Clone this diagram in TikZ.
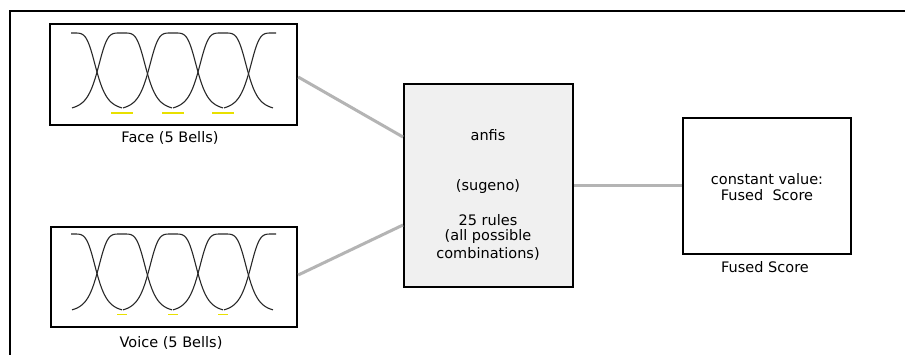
\documentclass[tikz,border=0pt]{standalone}
\usepackage{fontspec}
\setmainfont{DejaVu Sans}
\definecolor{linkgray}{HTML}{B4B4B4}
\definecolor{boxfill}{HTML}{F0F0F0}
\definecolor{bellc}{HTML}{282828}
\definecolor{marky}{HTML}{E8E000}
\begin{document}
\begin{tikzpicture}[x=1pt,y=-1pt,
  blk/.style={draw=black,line width=2.4pt,inner sep=0pt},
  lbl/.style={inner sep=0pt,font=\fontsize{14.5}{17}\selectfont,text=black},
  link/.style={draw=linkgray,line width=3pt},
  bell/.style={draw=bellc,line width=1.1pt},
  ymark/.style={draw=marky,line width=1.6pt}]
\useasboundingbox (0,0) rectangle (905,355);
\fill[white] (0,0) rectangle (905,355);
% outer frame (top and left visible)
\draw[line width=2.2pt] (10,355) -- (10,11) -- (905,11);
% blocks
\node[blk,minimum width=247pt,minimum height=101pt] (face) at (173.5,74.5) {};
\node[blk,minimum width=246pt,minimum height=100pt] (voice) at (174,277) {};
\node[blk,fill=boxfill,line width=2pt,minimum width=169pt,minimum height=203pt] (anfis) at (488.5,186) {};
\node[blk,line width=2.8pt,minimum width=168pt,minimum height=136pt] (fused) at (767,186) {};
% bells
\foreach \yb/\h in {111/78, 313/79}{
  \begin{scope}
    \clip (71,0) rectangle (276,355);
    \foreach \c in {72,122,173,223,274}{
      \draw[bell] plot[domain=\c-50:\c+50,samples=80,smooth]
        (\x,{\yb-\h/(1+pow(abs((\x-\c)/25),4.6))});
    }
  \end{scope}
}
\foreach \c in {122,173,223}{
  \draw[ymark] (\c-11,113) -- (\c+11,113);
  \draw[ymark] (\c-5,314.5) -- (\c+5,314.5);
}
% labels
\node[lbl] (facelbl) at (170,138) {Face (5 Bells)};
\node[lbl] (voicelbl) at (171,343) {Voice (5 Bells)};
\node[lbl] (fusedlbl) at (765,267) {Fused Score};
\node[lbl] (t1) at (488,135) {anfis};
\node[lbl] (t2) at (488,187) {(sugeno)};
\node[lbl] (t3) at (488,220) {25 rules};
\node[lbl] (t4) at (488,237) {(all possible};
\node[lbl] (t5) at (488,254) {combinations)};
\node[lbl] (f1) at (767,179) {constant value:};
\node[lbl] (f2) at (767,195) {Fused\ \ Score};
% connectors
\draw[link] ([yshift=-2.5pt]face.east) -- ([yshift=49pt]anfis.west);
\draw[link] ([yshift=2pt]voice.east) -- ([yshift=-39pt]anfis.west);
\draw[link] (anfis.east) -- (fused.west);
\end{tikzpicture}
\end{document}
